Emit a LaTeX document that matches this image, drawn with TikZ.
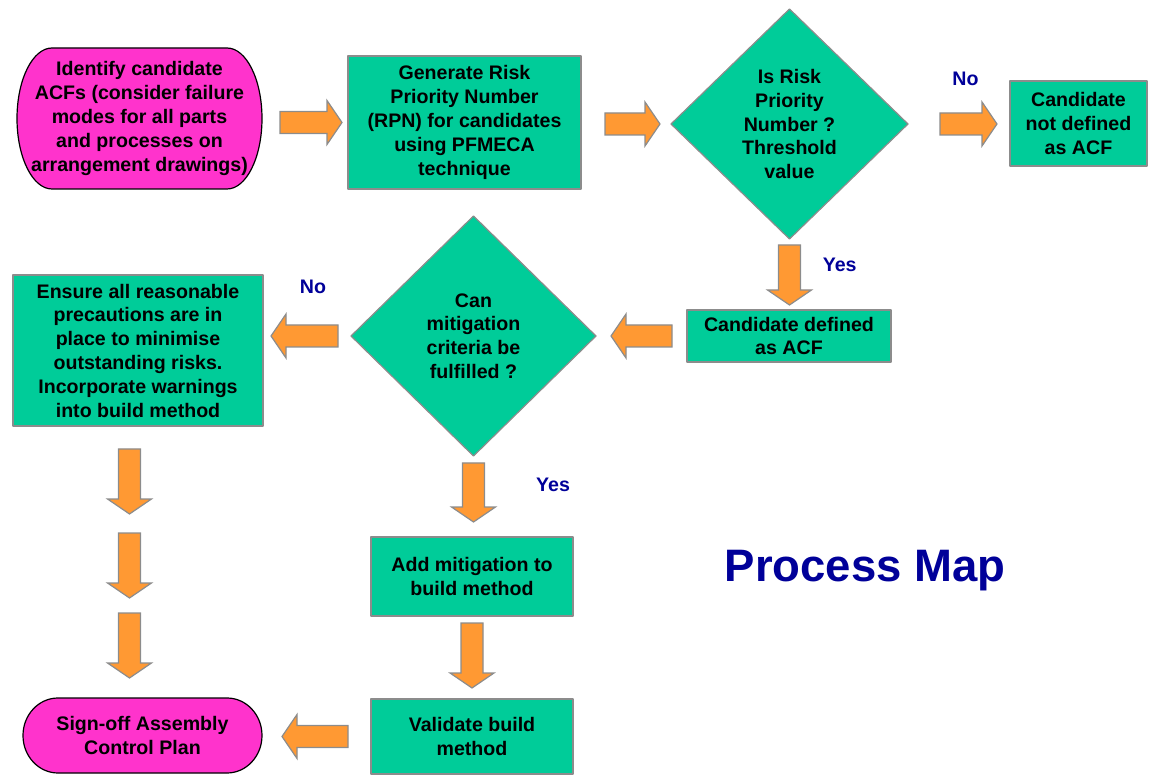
\documentclass[tikz,border=0pt]{standalone}
\usepackage{fontspec}
\setmainfont{Liberation Sans}
\usepackage{tikz}
\usetikzlibrary{calc, shapes.geometric, backgrounds}
\definecolor{mapgreen}{HTML}{00CC99}
\definecolor{mappink}{HTML}{FF33CC}
\definecolor{maporange}{HTML}{FF9933}
\definecolor{mapedge}{HTML}{8C8C8C}
\definecolor{mapnavy}{HTML}{000099}

% block arrow from #1 to #2, kept #3 and #4 off the ends
\newcommand{\fatarrow}[4]{%
  \coordinate (fa-t) at ($(#1)!#3!(#2)$);
  \coordinate (fa-h) at ($(#2)!#4!(#1)$);
  \coordinate (fa-k) at ($(fa-h)!15pt!(fa-t)$);
  \draw[blockarrow] ($(fa-t)!11pt!90:(fa-h)$) -- ($(fa-k)!11pt!90:(fa-h)$)
    -- ($(fa-k)!22pt!90:(fa-h)$) -- (fa-h) -- ($(fa-k)!22pt!-90:(fa-h)$)
    -- ($(fa-k)!11pt!-90:(fa-h)$) -- ($(fa-t)!11pt!-90:(fa-h)$) -- cycle;
}
% terminator outline round a node: node, x radius, y radius
\newcommand{\termline}[3]{%
  \begin{pgfonlayer}{background}
    \filldraw[termedge] ($(#1.north west)+(#2,0)$) -- ($(#1.north east)+(-#2,0)$)
      arc[start angle=90, end angle=-90, x radius=#2pt, y radius=#3pt]
      -- ($(#1.south west)+(#2,0)$)
      arc[start angle=-90, end angle=-270, x radius=#2pt, y radius=#3pt] -- cycle;
  \end{pgfonlayer}
}

\begin{document}
\begin{tikzpicture}[x=1pt, y=-1pt, line join=round,
    txt/.style={font=\fontsize{19.6}{23.8}\selectfont\bfseries, align=center,
                inner sep=0pt, outer sep=0pt},
    box/.style={txt, rectangle, draw=mapedge, line width=1.2pt, fill=mapgreen},
    decision/.style={txt, diamond, draw=mapedge, line width=1.2pt, fill=mapgreen},
    term/.style={txt},
    termedge/.style={draw=black, line width=1.2pt, fill=mappink},
    blockarrow/.style={draw=mapedge, line width=1.2pt, fill=maporange, line join=miter},
    answer/.style={font=\fontsize{19.6}{23.8}\selectfont\bfseries, text=mapnavy, anchor=base}]
  \useasboundingbox (0,0) rectangle (1149,775);

  % top row
  \node[term, minimum width=245, minimum height=141] (ident) at (139.5,118.5)
    {Identify candidate\\ACFs (consider failure\\modes for all parts\\and processes on\\arrangement drawings)};
  \termline{ident}{35}{70.5}
  \node[box, minimum width=233, minimum height=133] (rpn) at (464.5,122.5)
    {Generate Risk\\Priority Number\\(RPN) for candidates\\using PFMECA\\technique};
  \node[decision, minimum width=237, minimum height=230] (thresh) at (789.5,124)
    {Is Risk\\Priority\\Number ?\\Threshold\\value};
  \node[box, minimum width=137, minimum height=85] (notacf) at (1078.5,123.5)
    {Candidate\\not defined\\as ACF};

  % middle row
  \node[box, minimum width=204, minimum height=52] (candacf) at (789,336)
    {Candidate defined\\as ACF};
  \node[decision, minimum width=245, minimum height=240] (decide) at (473.5,336)
    {Can\\mitigation\\criteria be\\fulfilled ?};
  \node[box, minimum width=250, minimum height=151] (ensure) at (138,350.5)
    {Ensure all reasonable\\precautions are in\\place to minimise\\outstanding risks.\\Incorporate warnings\\into build method};

  % bottom part
  \node[box, minimum width=202, minimum height=79] (addmit) at (472,576.5)
    {Add mitigation to\\build method};
  \node[box, minimum width=202, minimum height=75] (validate) at (472,736.5)
    {Validate build\\method};
  \node[term, minimum width=239, minimum height=75] (signoff) at (142.5,735.5)
    {Sign-off Assembly\\Control Plan};
  \termline{signoff}{35}{37.5}

  \node[anchor=base, text=mapnavy, font=\fontsize{45.5}{54}\selectfont\bfseries] (title)
    at (865,581.7) {Process Map};

  % answers
  \node[answer] (no1) at (965.5,86) {No};
  \node[answer] (yes1) at (839.7,271.7) {Yes};
  \node[answer] (no2) at (313,294) {No};
  \node[answer] (yes2) at (553,491.7) {Yes};

  % arrows
  \fatarrow{ident.east |- rpn.west}{rpn.west}{18pt}{6pt}
  \fatarrow{rpn.east |- thresh.west}{thresh.west}{24pt}{11pt}
  \fatarrow{thresh.east}{notacf.west |- thresh.east}{32pt}{13pt}
  \fatarrow{thresh.south}{candacf.north -| thresh.south}{6pt}{5pt}
  \fatarrow{candacf.west}{decide.east}{15pt}{15pt}
  \fatarrow{decide.west}{ensure.east |- decide.west}{13pt}{8pt}
  \fatarrow{decide.south}{addmit.north -| decide.south}{7pt}{15pt}
  \fatarrow{addmit.south}{validate.north}{7pt}{11pt}
  \fatarrow{validate.west}{signoff.east |- validate.west}{23pt}{20pt}
  \foreach \t/\h [count=\i] in {449/514, 533/598, 613/678} {
    \coordinate (drop\i t) at (129.5,\t);
    \coordinate (drop\i h) at (129.5,\h);
    \fatarrow{drop\i t}{drop\i h}{0pt}{0pt}
  }
\end{tikzpicture}
\end{document}
